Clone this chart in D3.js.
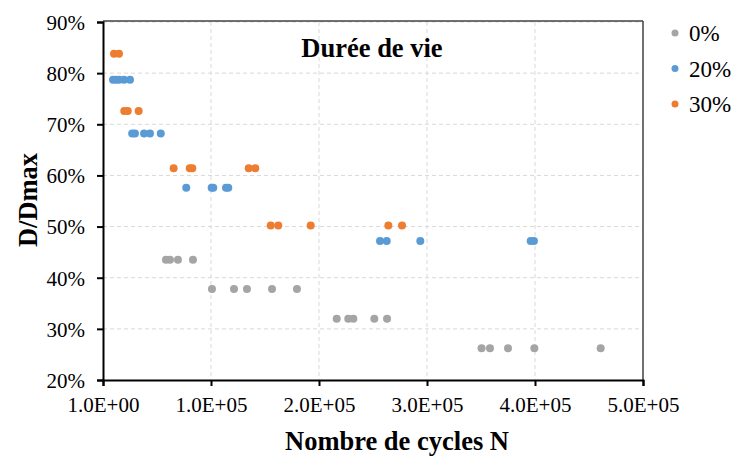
<!DOCTYPE html>
<html><head><meta charset="utf-8">
<script src="https://cdn.jsdelivr.net/npm/d3@7"></script>
<style>
body{margin:0;background:#fff}svg{display:block}
text{font-family:"Liberation Serif","Times New Roman",Times,serif}
</style>
</head><body>
<script>
const seriesNames = ["0%", "20%", "30%"];
const seriesColors = ["#A5A5A5", "#5B9BD5", "#ED7D31"];
const xTicks = [0, 100000, 200000, 300000, 400000, 500000];
const xTickLabels = ["1.0E+00", "1.0E+05", "2.0E+05", "3.0E+05", "4.0E+05", "5.0E+05"];
const yTicks = [20, 30, 40, 50, 60, 70, 80, 90];
const yTickLabels = ["20%", "30%", "40%", "50%", "60%", "70%", "80%", "90%"];

const s0x = [58300, 62000, 69400, 83300, 100900, 121300, 133300, 156500, 179600, 216400, 227100, 231800, 251200, 263000, 350500, 358300, 375000, 399400, 460800];
const s0y = [43.5, 43.5, 43.5, 43.5, 37.8, 37.8, 37.8, 37.8, 37.8, 32, 32, 32, 32, 32, 26.2, 26.2, 26.2, 26.2, 26.2];
const s1x = [9300, 12000, 14800, 19400, 25000, 27000, 29600, 38000, 43500, 53500, 77100, 100600, 102100, 113900, 116000, 256500, 262700, 293800, 396000, 399000];
const s1y = [78.7, 78.7, 78.7, 78.7, 78.7, 68.2, 68.2, 68.2, 68.2, 68.2, 57.6, 57.6, 57.6, 57.6, 57.6, 47.2, 47.2, 47.2, 47.2, 47.2];
const s2x = [10200, 14800, 19700, 22900, 33000, 65400, 80300, 82700, 134900, 141000, 155300, 162300, 192300, 264200, 276900];
const s2y = [83.8, 83.8, 72.6, 72.6, 72.6, 61.4, 61.4, 61.4, 61.4, 61.4, 50.2, 50.2, 50.2, 50.2, 50.2];

const W = 734, H = 457;
const m = {l: 103, r: 643, t: 22, b: 380};
const svg = d3.select("body").append("svg").attr("width", W).attr("height", H);

const x = d3.scaleLinear().domain([0, 500000]).range([m.l, m.r]);
const y = d3.scaleLinear().domain([20, 90]).range([m.b, m.t]);

// gridlines
const g = svg.append("g");
g.selectAll(".hg").data(yTicks.slice(1)).enter().append("line")
  .attr("x1", m.l).attr("x2", m.r).attr("y1", d => y(d)).attr("y2", d => y(d))
  .attr("stroke", "#d9d9d9").attr("stroke-width", 1).attr("stroke-dasharray", "4,3");
g.selectAll(".vg").data(xTicks.slice(1, -1)).enter().append("line")
  .attr("y1", m.t).attr("y2", m.b).attr("x1", d => x(d)).attr("x2", d => x(d))
  .attr("stroke", "#d9d9d9").attr("stroke-width", 1).attr("stroke-dasharray", "4,3");

// border top/right
svg.append("line").attr("x1", m.l).attr("x2", m.r).attr("y1", m.t - 1).attr("y2", m.t - 1).attr("stroke", "#404040").attr("stroke-width", 1.5);
svg.append("line").attr("x1", m.r).attr("x2", m.r).attr("y1", m.t - 1).attr("y2", m.b).attr("stroke", "#404040").attr("stroke-width", 1.5);

// axes
const xAxis = d3.axisBottom(x).tickValues(xTicks).tickFormat((d, i) => xTickLabels[i]).tickSizeOuter(0).tickSize(6).tickPadding(7);
const yAxis = d3.axisLeft(y).tickValues(yTicks).tickFormat((d, i) => yTickLabels[i]).tickSizeOuter(0).tickSize(6).tickPadding(12);
const gx = svg.append("g").attr("transform", `translate(0,${m.b})`).call(xAxis);
const gy = svg.append("g").attr("transform", `translate(${m.l},0)`).call(yAxis);
[gx, gy].forEach(a => {
  a.attr("font-family", null);
  a.selectAll("path,line").attr("stroke", "#000").attr("stroke-width", 2);
  a.selectAll("text").attr("font-size", 21).attr("fill", "#000");
});
gx.selectAll("text").attr("dy", "0.9em");
gy.selectAll("text").attr("dy", "0.35em");

// points
const series = [[s0x, s0y], [s1x, s1y], [s2x, s2y]];
series.forEach((s, i) => {
  svg.append("g").selectAll("circle").data(s[0].map((v, j) => [v, s[1][j]])).enter().append("circle")
    .attr("cx", d => x(d[0])).attr("cy", d => y(d[1])).attr("r", 4)
    .attr("fill", seriesColors[i]);
});

// title
svg.append("text").attr("x", 372).attr("y", 57).attr("text-anchor", "middle")
  .attr("font-size", 26.5).attr("font-weight", "bold").text("Durée de vie");

// axis titles
svg.append("text").attr("transform", "translate(37,200) rotate(-90)").attr("text-anchor", "middle")
  .attr("font-size", 26.5).attr("font-weight", "bold").text("D/Dmax");
svg.append("text").attr("x", 397).attr("y", 450).attr("text-anchor", "middle")
  .attr("font-size", 26.5).attr("font-weight", "bold").text("Nombre de cycles N");

// legend
const lg = svg.append("g");
seriesNames.forEach((n, i) => {
  const cy = 33 + i * 35.5;
  lg.append("circle").attr("cx", 675).attr("cy", cy).attr("r", 3.5).attr("fill", seriesColors[i]);
  lg.append("text").attr("x", 689).attr("y", cy).attr("dy", "0.35em")
    .attr("font-size", 23).text(n);
});
</script>
</body></html>
